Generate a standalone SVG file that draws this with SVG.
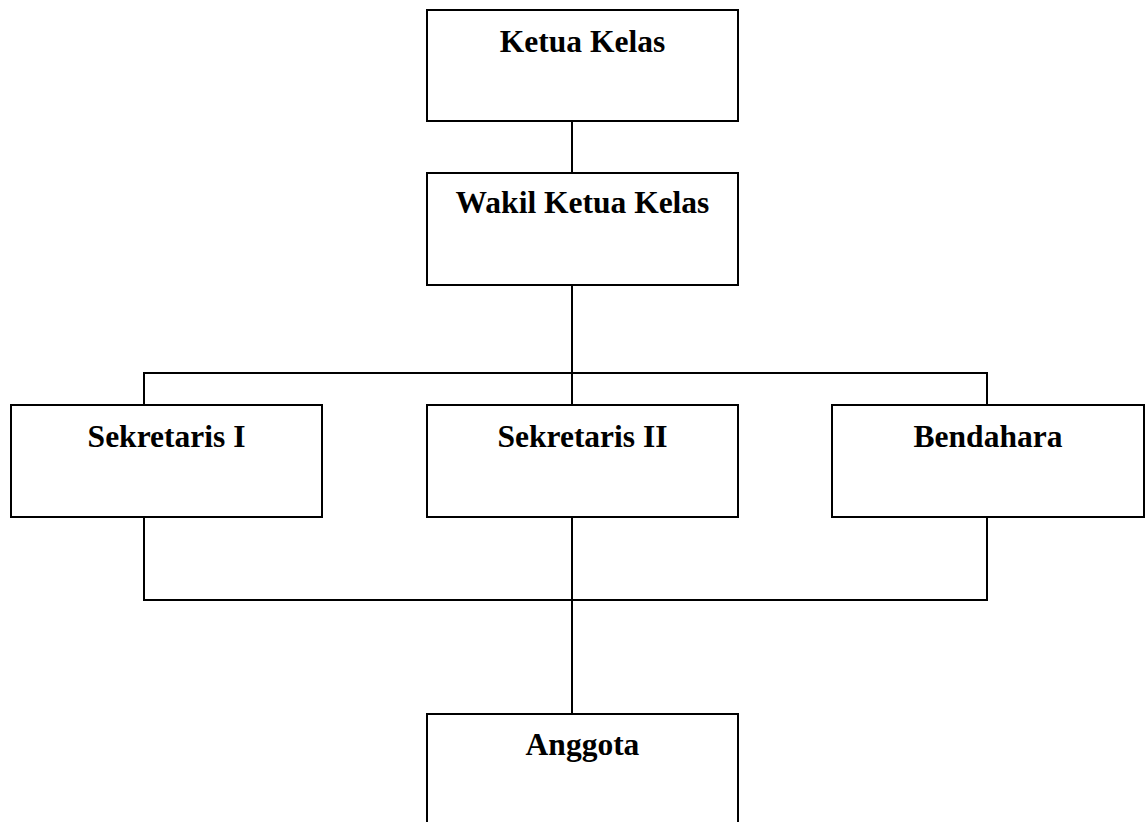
<svg xmlns="http://www.w3.org/2000/svg" width="1146" height="822" viewBox="0 0 1146 822">
<style>
.box{fill:#fff;stroke:#000;stroke-width:2}
.lbl{font-family:"Liberation Serif","Times New Roman",serif;font-weight:bold;font-size:31.5px;fill:#000;text-anchor:middle}
.con{fill:none;stroke:#000;stroke-width:2}
</style>
<rect width="1146" height="822" fill="#fff"/>
<g id="connectors">
<line class="con" x1="572" y1="121" x2="572" y2="173"/>
<line class="con" x1="572" y1="285" x2="572" y2="405"/>
<polyline class="con" points="144,405 144,373 987,373 987,405"/>
<polyline class="con" points="144,517 144,600 987,600 987,517"/>
<line class="con" x1="572" y1="517" x2="572" y2="714"/>
</g>
<g id="ketua"><rect class="box" x="427" y="10" width="311" height="111"/><text class="lbl" x="582.5" y="52">Ketua Kelas</text></g>
<g id="wakil"><rect class="box" x="427" y="173" width="311" height="112"/><text class="lbl" x="582.5" y="213">Wakil Ketua Kelas</text></g>
<g id="sekretaris1"><rect class="box" x="11" y="405" width="311" height="112"/><text class="lbl" x="166.5" y="447">Sekretaris I</text></g>
<g id="sekretaris2"><rect class="box" x="427" y="405" width="311" height="112"/><text class="lbl" x="582.5" y="447">Sekretaris II</text></g>
<g id="bendahara"><rect class="box" x="832" y="405" width="312" height="112"/><text class="lbl" x="988" y="447">Bendahara</text></g>
<g id="anggota"><rect class="box" x="427" y="714" width="311" height="120"/><text class="lbl" x="582.5" y="755">Anggota</text></g>
</svg>
